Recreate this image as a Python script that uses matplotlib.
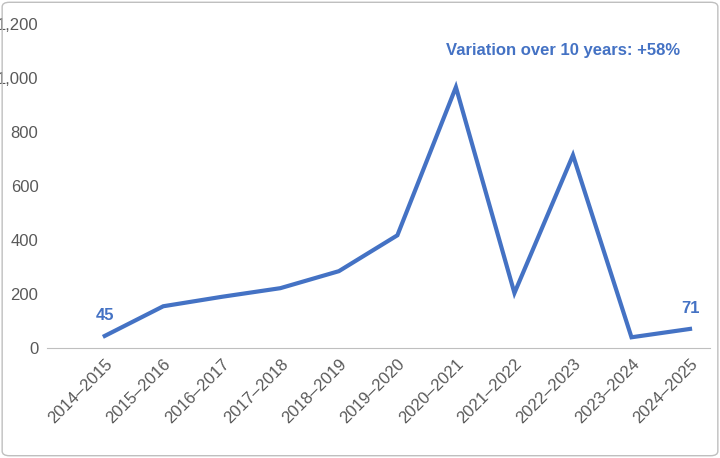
import matplotlib.pyplot as plt
from matplotlib.patches import FancyBboxPatch
from matplotlib.ticker import FuncFormatter

seasons = ['2014–2015', '2015–2016', '2016–2017', '2017–2018', '2018–2019', '2019–2020',
           '2020–2021', '2021–2022', '2022–2023', '2023–2024', '2024–2025']
values = [45, 155, 190, 222, 285, 418, 967, 204, 715, 40, 71]
blue = '#4472C4'

plt.rcParams['font.family'] = ['Liberation Sans', 'DejaVu Sans']
fig = plt.figure(figsize=(7.2, 4.58), dpi=100)
ax = fig.add_axes([0.065, 0.24, 0.921, 0.707])
fig.patches.append(FancyBboxPatch((0.003, 0.005), 0.994, 0.99, boxstyle='round,pad=0,rounding_size=0.01',
                                  transform=fig.transFigure, fill=False, ec='#BFBFBF', lw=1))

x = range(len(seasons))
ax.plot(x, values, color=blue, lw=3, solid_joinstyle='miter')
ax.set_xlim(-0.99, 10.34)
ax.set_ylim(0, 1200)
ax.set_yticks(range(0, 1201, 200))
ax.yaxis.set_major_formatter(FuncFormatter(lambda v, p: f'{int(v):,}'))
ax.set_xticks(list(x))
ax.set_xticklabels(seasons, rotation=45, ha='right', rotation_mode='anchor')
ax.tick_params(axis='both', length=0, labelsize=12, colors='#595959', pad=6)
for s in ['top', 'right', 'left']:
    ax.spines[s].set_visible(False)
ax.spines['bottom'].set_color('#BFBFBF')

ax.annotate(str(values[0]), (0, values[0]), xytext=(0, 9), textcoords='offset points',
            ha='center', va='bottom', color=blue, fontsize=12, fontweight='bold')
ax.annotate(str(values[-1]), (10, values[-1]), xytext=(0, 9), textcoords='offset points',
            ha='center', va='bottom', color=blue, fontsize=12, fontweight='bold')
ax.text(0.955, 0.92, 'Variation over 10 years: +58%', transform=ax.transAxes,
        ha='right', va='center', color=blue, fontsize=12, fontweight='bold')

fig.savefig('out.png', dpi=100)
